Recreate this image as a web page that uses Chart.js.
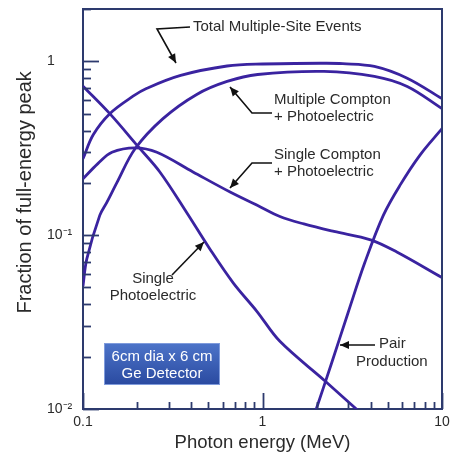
<!DOCTYPE html>
<html><head><meta charset="utf-8">
<script src="https://cdn.jsdelivr.net/npm/chart.js@4/dist/chart.umd.min.js"></script>
<style>html,body{margin:0;padding:0;background:#fff;}#wrap{width:450px;height:452px;}</style>
</head><body><div id="wrap"><canvas id="c" width="450" height="452"></canvas></div>
<script>
// ---- data ----
const xMajorTicks = [0.1, 1, 10];
const xMajorLabels = ['0.1', '1', '10'];
const yMajorTicks = [0.01, 0.1, 1];
const yMajorLabels = ['10\u207B\u00B2', '10\u207B\u00B9', '1'];

const seriesNames = ['Total Multiple-Site Events', 'Multiple Compton + Photoelectric', 'Single Compton + Photoelectric', 'Single Photoelectric', 'Pair Production'];

const totalE = [0.1, 0.114, 0.141, 0.19, 0.227, 0.35, 0.635, 1.0, 2.2, 2.8, 4.2, 6.4, 10];
const totalV = [0.275, 0.378, 0.50, 0.63, 0.70, 0.83, 0.94, 0.965, 0.975, 0.97, 0.935, 0.80, 0.61];

const multiE = [0.1, 0.105, 0.124, 0.136, 0.155, 0.195, 0.279, 0.43, 0.635, 0.94, 2.2, 4.2, 6.4, 10];
const multiV = [0.051, 0.073, 0.13, 0.155, 0.202, 0.314, 0.468, 0.645, 0.766, 0.84, 0.875, 0.82, 0.717, 0.535];

const singleCE = [0.1, 0.121, 0.145, 0.195, 0.258, 0.41, 0.66, 0.94, 1.25, 1.7, 2.5, 4.0, 5.6, 10];
const singleCV = [0.211, 0.258, 0.30, 0.318, 0.30, 0.231, 0.177, 0.148, 0.128, 0.116, 0.105, 0.094, 0.08, 0.057];

const singlePE_E = [0.1, 0.141, 0.203, 0.268, 0.378, 0.51, 0.688, 0.93, 1.25, 2.23, 3.6];
const singlePE_V = [0.72, 0.50, 0.323, 0.231, 0.135, 0.083, 0.053, 0.0365, 0.0245, 0.0145, 0.0093];

const pairE = [1.96, 2.43, 3.0, 3.72, 4.71, 5.84, 7.54, 10];
const pairV = [0.0095, 0.01845, 0.0359, 0.0698, 0.130, 0.194, 0.289, 0.41];

// ---- styling ----
const FONT = "'Liberation Sans', Arial, Helvetica, sans-serif";
const LINE = '#3a23a0';
const AXIS = '#2d3a6e';
const TEXT = '#2a2a2a';

function pts(xs, ys) { return xs.map((x, i) => ({ x: x, y: ys[i] })); }
function isMajor(v, list) { return list.findIndex(t => Math.abs(Math.log10(v) - Math.log10(t)) < 1e-6); }
function noPad(s) { s.paddingTop = 0; s.paddingBottom = 0; s.paddingLeft = 0; s.paddingRight = 0; }

const seriesData = [pts(totalE, totalV), pts(multiE, multiV), pts(singleCE, singleCV), pts(singlePE_E, singlePE_V), pts(pairE, pairV)];

const frameAndTicks = {
  id: 'frameAndTicks',
  afterDatasetsDraw(chart) {
    const { ctx, chartArea: a, scales: { x, y } } = chart;
    ctx.save();
    ctx.strokeStyle = AXIS;
    ctx.lineWidth = 2;
    ctx.beginPath();
    ctx.moveTo(a.left, a.top); ctx.lineTo(a.right, a.top); ctx.lineTo(a.right, a.bottom);
    ctx.stroke();
    ctx.lineWidth = 1.8;
    for (let d = -2; d <= 0; d++) {
      for (let m = 1; m <= 9; m++) {
        const v = m * Math.pow(10, d);
        if (v < y.min - 1e-9 || v > y.max + 1e-9) continue;
        const py = Math.round(y.getPixelForValue(v)) + 0.5;
        const len = m === 1 ? 16 : 8;
        ctx.beginPath(); ctx.moveTo(a.left, py); ctx.lineTo(a.left + len, py); ctx.stroke();
      }
    }
    for (let d = -1; d <= 1; d++) {
      for (let m = 1; m <= 9; m++) {
        const v = m * Math.pow(10, d);
        if (v < x.min - 1e-9 || v > x.max + 1e-9) continue;
        const px = Math.round(x.getPixelForValue(v)) + 0.5;
        const len = m === 1 ? 16 : 7;
        ctx.beginPath(); ctx.moveTo(px, a.bottom); ctx.lineTo(px, a.bottom - len); ctx.stroke();
      }
    }
    ctx.restore();
  }
};

function arrow(ctx, path) {
  ctx.beginPath();
  ctx.moveTo(path[0][0], path[0][1]);
  for (let i = 1; i < path.length; i++) ctx.lineTo(path[i][0], path[i][1]);
  ctx.stroke();
  const [x1, y1] = path[path.length - 2], [x2, y2] = path[path.length - 1];
  const ang = Math.atan2(y2 - y1, x2 - x1);
  const L = 9, W = 4;
  ctx.beginPath();
  ctx.moveTo(x2, y2);
  ctx.lineTo(x2 - L * Math.cos(ang) + W * Math.sin(ang), y2 - L * Math.sin(ang) - W * Math.cos(ang));
  ctx.lineTo(x2 - L * Math.cos(ang) - W * Math.sin(ang), y2 - L * Math.sin(ang) + W * Math.cos(ang));
  ctx.closePath();
  ctx.fill();
}

const annotations = {
  id: 'annotations',
  afterDraw(chart) {
    const ctx = chart.ctx;
    ctx.save();
    ctx.fillStyle = TEXT;
    ctx.font = '15px ' + FONT;
    ctx.textBaseline = 'middle';
    ctx.textAlign = 'left';
    ctx.fillText('Total Multiple-Site Events', 193, 27);
    ctx.fillText('Multiple Compton', 274, 100);
    ctx.fillText('+ Photoelectric', 274, 117);
    ctx.fillText('Single Compton', 274, 155);
    ctx.fillText('+ Photoelectric', 274, 172);
    ctx.fillText('Pair', 379, 344);
    ctx.fillText('Production', 356, 362);
    ctx.textAlign = 'center';
    ctx.fillText('Single', 153, 279);
    ctx.fillText('Photoelectric', 153, 296);

    ctx.strokeStyle = '#111';
    ctx.fillStyle = '#111';
    ctx.lineWidth = 1.6;
    arrow(ctx, [[190, 27], [157, 29], [176, 63]]);
    arrow(ctx, [[272, 113], [252, 113], [230, 87]]);
    arrow(ctx, [[272, 163], [252, 163], [230, 188]]);
    arrow(ctx, [[172, 275], [204, 242]]);
    arrow(ctx, [[375, 345], [340, 345]]);

    const bx = 104, by = 343, bw = 116, bh = 42;
    const g = ctx.createLinearGradient(0, by, 0, by + bh);
    g.addColorStop(0, '#4d74c9');
    g.addColorStop(1, '#2a4aa0');
    ctx.fillStyle = g;
    ctx.fillRect(bx, by, bw, bh);
    ctx.strokeStyle = '#7f9bdc';
    ctx.lineWidth = 1;
    ctx.strokeRect(bx + 0.5, by + 0.5, bw - 1, bh - 1);
    ctx.fillStyle = '#ffffff';
    ctx.font = '15px ' + FONT;
    ctx.textAlign = 'center';
    ctx.fillText('6cm dia x 6 cm', bx + bw / 2, 357);
    ctx.fillText('Ge Detector', bx + bw / 2, 374);
    ctx.restore();
  }
};

Chart.defaults.font.family = FONT;

new Chart(document.getElementById('c'), {
  type: 'line',
  data: {
    datasets: seriesNames.map((n, i) => ({
      label: n,
      data: seriesData[i],
      borderColor: LINE,
      borderWidth: 2.8,
      pointRadius: 0,
      fill: false,
      tension: 0.35
    }))
  },
  options: {
    responsive: false,
    devicePixelRatio: 1,
    animation: false,
    layout: { padding: { top: 9, right: 8, left: 47, bottom: 0 } },
    plugins: { legend: { display: false }, tooltip: { enabled: false } },
    scales: {
      x: {
        type: 'logarithmic',
        min: 0.1, max: 10,
        grid: { display: false, drawTicks: false },
        border: { display: true, color: AXIS, width: 2 },
        ticks: {
          autoSkip: false, maxRotation: 0, padding: 5,
          color: TEXT, font: { size: 14 },
          callback: (v) => { const k = isMajor(v, xMajorTicks); return k >= 0 ? xMajorLabels[k] : ''; }
        },
        title: { display: true, text: 'Photon energy (MeV)', color: TEXT, font: { size: 18.5, lineHeight: 1 }, padding: { top: 0, bottom: 0 } },
        afterFit: (s) => { s.height = 43; noPad(s); }
      },
      y: {
        type: 'logarithmic',
        min: 0.01, max: 2,
        grid: { display: false, drawTicks: false },
        border: { display: true, color: AXIS, width: 2 },
        ticks: {
          autoSkip: false, padding: 4, crossAlign: 'far',
          color: TEXT, font: { size: 14 },
          callback: (v) => { const k = isMajor(v, yMajorTicks); return k >= 0 ? yMajorLabels[k] : ''; }
        },
        title: { display: true, text: '      Fraction of full-energy peak', color: TEXT, font: { size: 20, lineHeight: 1 }, padding: { top: -32, bottom: 0 } },
        afterFit: (s) => { s.width = 36; noPad(s); }
      }
    }
  },
  plugins: [frameAndTicks, annotations]
});
</script>
</body></html>
